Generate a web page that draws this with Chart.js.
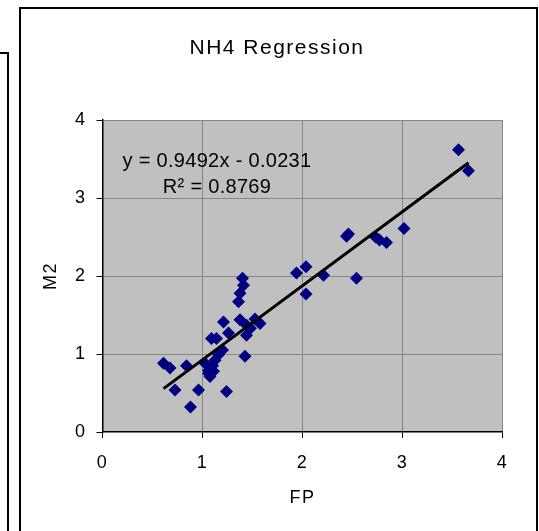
<!DOCTYPE html>
<html>
<head>
<meta charset="utf-8">
<script src="https://cdn.jsdelivr.net/npm/chart.js@4.4.0/dist/chart.umd.min.js"></script>
<style>
  html, body { margin: 0; padding: 0; background: #fff; overflow: hidden; }
  #wrap { position: relative; width: 539px; height: 531px; }
  .frame { position: absolute; border: 2px solid #000; box-sizing: border-box; }
  #leftBox { left: -30px; top: 52px; width: 39px; height: 520px; }
  #chartBox { left: 19px; top: 7px; width: 519px; height: 560px; }
  canvas { position: absolute; left: 0; top: 0; }
</style>
</head>
<body>
<div id="wrap">
  <div class="frame" id="leftBox"></div>
  <div class="frame" id="chartBox"></div>
  <canvas id="grafico" width="539" height="531"></canvas>
</div>
<script>
// --- dados ---
const fpValues = [0.61, 0.675, 0.725, 0.84, 0.88, 0.96, 1.025, 1.06, 1.075, 1.11,
                  1.125, 1.16, 1.09, 1.14, 1.21, 1.24, 1.26, 1.36, 1.375, 1.41,
                  1.40, 1.375, 1.425, 1.44, 1.44, 1.525, 1.575, 1.10, 1.06, 1.48,
                  1.20, 1.94, 2.035, 2.035, 2.21, 2.44, 2.46, 2.54, 2.73, 2.77,
                  2.84, 3.015, 3.56, 3.66];
const m2Values = [0.88, 0.82, 0.54, 0.85, 0.32, 0.54, 0.88, 0.79, 0.71, 0.78,
                  0.92, 0.99, 1.20, 1.20, 1.41, 0.52, 1.27, 1.67, 1.78, 1.88,
                  1.97, 1.44, 0.97, 1.37, 1.24, 1.45, 1.39, 0.85, 0.75, 1.33,
                  1.05, 2.04, 2.12, 1.77, 2.01, 2.51, 2.54, 1.97, 2.50, 2.46,
                  2.43, 2.61, 3.62, 3.35];
const xTickLabels = [0, 1, 2, 3, 4];
const yTickLabels = [0, 1, 2, 3, 4];

// linha de tendência (Excel)
const slope = 0.9492;
const intercept = -0.0231;
const rSquared = 0.8769;

const FONTE = "'Liberation Sans', Arial, sans-serif";

const pontos = fpValues.map((x, i) => ({ x: x, y: m2Values[i] }));
const xMin = Math.min(...fpValues);
const xMax = Math.max(...fpValues);
const linha = [
  { x: xMin, y: slope * xMin + intercept },
  { x: xMax, y: slope * xMax + intercept }
];

// fundo cinza da área de plotagem
const fundoPlot = {
  id: 'fundoPlot',
  beforeDraw(chart) {
    const { ctx, chartArea: a } = chart;
    ctx.letterSpacing = '1.5px';
    ctx.save();
    ctx.fillStyle = '#c0c0c0';
    ctx.fillRect(a.left, a.top, a.right - a.left, a.bottom - a.top);
    ctx.restore();
  }
};

// texto da equação
const equacao = {
  id: 'equacao',
  afterDraw(chart) {
    const { ctx } = chart;
    const x = chart.scales.x.getPixelForValue(1.145);
    const y1 = chart.scales.y.getPixelForValue(3.47);
    const y2 = chart.scales.y.getPixelForValue(3.13);
    ctx.save();
    ctx.letterSpacing = '0.3px';
    ctx.font = '20px ' + FONTE;
    ctx.fillStyle = '#000';
    ctx.textAlign = 'center';
    ctx.textBaseline = 'middle';
    const sinal = intercept < 0 ? ' - ' : ' + ';
    ctx.fillText('y = ' + slope.toFixed(4) + 'x' + sinal + Math.abs(intercept).toFixed(4), x, y1);
    ctx.fillText('R\u00b2 = ' + rSquared.toFixed(4), x, y2);
    ctx.restore();
  }
};

const corGrade = (ctx) => {
  const v = ctx.tick ? ctx.tick.value : null;
  return v === 0 ? 'rgba(0,0,0,0)' : '#868686';
};

new Chart(document.getElementById('grafico'), {
  type: 'scatter',
  data: {
    datasets: [
      {
        label: 'Trendline',
        type: 'line',
        data: linha,
        borderColor: '#000',
        borderWidth: 3,
        pointRadius: 0,
        fill: false,
        order: 0
      },
      {
        label: 'M2',
        data: pontos,
        pointStyle: 'rectRot',
        pointRadius: 6.5,
        backgroundColor: '#000080',
        borderColor: '#000080',
        borderWidth: 0,
        order: 1
      }
    ]
  },
  options: {
    responsive: false,
    animation: false,
    devicePixelRatio: 1,
    layout: { padding: { left: 22, right: 7, top: 10, bottom: 14 } },
    plugins: {
      legend: { display: false },
      tooltip: { enabled: false },
      title: {
        display: true,
        text: 'NH4 Regression',
        color: '#000',
        font: { family: FONTE, size: 21, weight: 'normal', lineHeight: 1.2 },
        padding: { top: 25.4, bottom: 59.4 }
      }
    },
    scales: {
      x: {
        type: 'linear',
        min: 0,
        max: 4,
        afterFit: (s) => { s.height = 85; },
        afterBuildTicks: (s) => { s.ticks = xTickLabels.map(v => ({ value: v })); },
        ticks: { stepSize: 1, color: '#000', padding: 14, maxRotation: 0,
                 font: { family: FONTE, size: 18 } },
        grid: { color: corGrade, lineWidth: 1, tickLength: 6, tickColor: '#000', drawTicks: true },
        border: { color: '#000', width: 1.5 },
        title: { display: true, text: 'FP', color: '#000',
                 font: { family: FONTE, size: 18 }, padding: { top: 0, bottom: 8.5 } }
      },
      y: {
        type: 'linear',
        min: 0,
        max: 4,
        afterFit: (s) => { s.width = 80.5; },
        afterBuildTicks: (s) => { s.ticks = yTickLabels.map(v => ({ value: v })); },
        ticks: { stepSize: 1, color: '#000', padding: 10,
                 font: { family: FONTE, size: 18 } },
        grid: { color: corGrade, lineWidth: 1, tickLength: 6, tickColor: '#000', drawTicks: true },
        border: { color: '#000', width: 1.5 },
        title: { display: true, text: 'M2', color: '#000',
                 font: { family: FONTE, size: 18 }, padding: { top: 18, bottom: 0 } }
      },
      // eixo vazio à direita só para reservar a margem
      margemDireita: {
        type: 'linear',
        position: 'right',
        afterFit: (s) => { s.width = 29.5; },
        ticks: { display: false },
        grid: { display: false },
        border: { display: false }
      }
    }
  },
  plugins: [fundoPlot, equacao]
});
</script>
</body>
</html>
